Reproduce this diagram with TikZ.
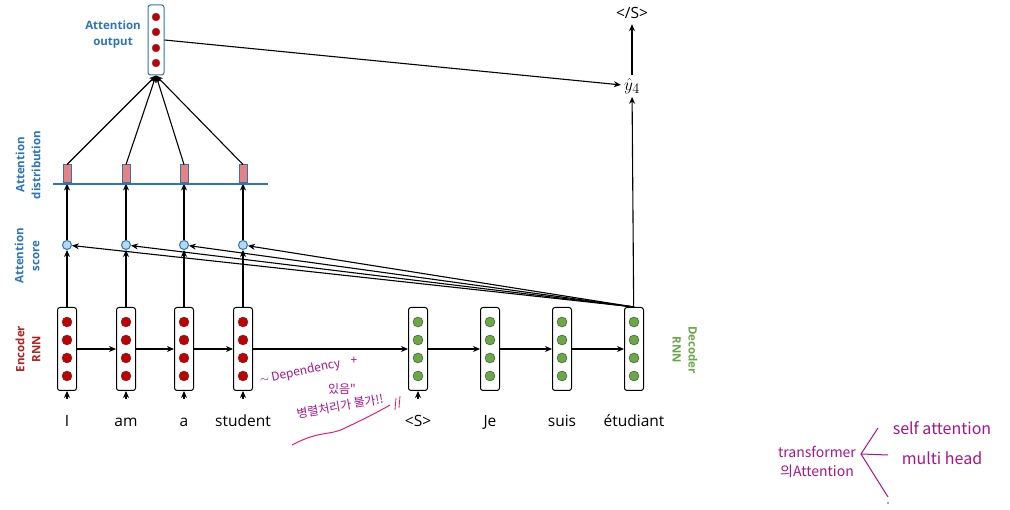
\documentclass[tikz,border=0pt]{standalone}
\usepackage{fontspec}
\setmainfont{Open Sans}
\newfontfamily\krfont{Noto Sans CJK KR}
\usepackage{xcolor}
\definecolor{attblue}{RGB}{46,117,182}
\definecolor{encred}{RGB}{192,0,0}
\definecolor{enclabel}{RGB}{175,35,35}
\definecolor{decgreen}{RGB}{106,168,70}
\definecolor{scorefill}{RGB}{178,218,244}
\definecolor{barfill}{RGB}{232,130,130}
\definecolor{notemag}{RGB}{168,20,140}
\definecolor{notepink}{RGB}{228,30,115}
\usetikzlibrary{arrows.meta, positioning, calc}

\begin{document}
\begin{tikzpicture}[x=1pt, y=-1pt,
    arr/.style={-{Stealth[length=7pt, width=6pt]}, line width=1.1pt, black},
    rnnbox/.style={draw=black, line width=1pt, fill=white, rounded corners=2.5pt,
                   minimum width=19pt, minimum height=83pt, inner sep=0pt},
    encdot/.style={circle, draw=black!75, fill=encred, minimum size=10pt, inner sep=0pt},
    decdot/.style={circle, draw=black!75, fill=decgreen, minimum size=10pt, inner sep=0pt},
    outdot/.style={circle, draw=black!60, fill=encred, minimum size=8pt, inner sep=0pt},
    scorecirc/.style={circle, draw=attblue, line width=1pt, fill=scorefill, minimum size=9pt, inner sep=0pt},
    attbar/.style={draw=attblue, line width=1pt, fill=barfill, minimum width=8pt, minimum height=18pt, inner sep=0pt},
    word/.style={font=\fontsize{15.5}{18}\selectfont, text height=11pt, text depth=3pt, inner sep=2pt},
    sidelabel/.style={font=\fontsize{11.5}{16}\selectfont\bfseries, align=center},
    note/.style={font=\krfont\fontsize{12}{14}\selectfont, notemag},
    bignote/.style={font=\krfont\fontsize{16}{18}\selectfont, notemag}]

\useasboundingbox (0,0) rectangle (1010,510);

% === Encoder RNN ===
\foreach \i/\x/\word in {1/67/I, 2/126/am, 3/184/a, 4/243/student} {
    \node[rnnbox] (enc\i) at (\x,349) {};
    \foreach \k/\y in {1/322, 2/340, 3/358, 4/376}
        \node[encdot] (enc\i d\k) at (\x,\y) {};
    \node[word] (in\i) at (\x,423) {\word};
    \draw[arr, shorten <=15pt] (in\i) -- (enc\i);
    % score and distribution
    \node[scorecirc] (sc\i) at (\x,245) {};
    \node[attbar] (bar\i) at (\x,174) {};
    \draw[arr] (enc\i) -- (sc\i);
    \draw[arr] (sc\i) -- (bar\i.south);
}

% === Decoder RNN ===
\foreach \i/\x/\word in {1/418/{<S>}, 2/490/Je, 3/562/suis, 4/634/étudiant} {
    \node[rnnbox] (dec\i) at (\x,349) {};
    \foreach \k/\y in {1/322, 2/340, 3/358, 4/376}
        \node[decdot] (dec\i d\k) at (\x,\y) {};
    \node[word] (out\i) at (\x,423) {\word};
}
\draw[arr, shorten <=15pt] (out1) -- (dec1);

% Recurrent arrows
\foreach \a/\b in {enc1/enc2, enc2/enc3, enc3/enc4, enc4/dec1, dec1/dec2, dec2/dec3, dec3/dec4}
    \draw[arr] (\a) -- (\b);

% Distribution axis
\draw[attblue, line width=1.5pt] (53,184) -- (268,184);

% Scores from decoder state
\foreach \i in {1,...,4}
    \draw[arr] (dec4.north) -- (sc\i);

% === Attention output ===
\node[draw=attblue, line width=1pt, fill=white, rounded corners=2.5pt,
      minimum width=16pt, minimum height=70pt, inner sep=0pt] (attout) at (156,40) {};
\foreach \k/\y in {1/17, 2/32, 3/48, 4/63}
    \node[outdot] (att d\k) at (156,\y) {};
\foreach \i in {1,...,4}
    \draw[arr] (bar\i.north) -- (attout.south);

% Prediction
\node[font=\fontsize{19}{22}\selectfont, inner sep=3pt] (yhat) at (632,86) {$\hat{y}_4$};
\node[word] (eos) at (632,15) {</S>};
\draw[arr] (attout.east) -- (yhat);
\draw[arr] (dec4) -- (yhat);
\draw[arr] (yhat) -- (eos);

% === Side labels ===
\node[sidelabel, attblue] (lbloutput) at (113,35) {Attention\\output};
\node[sidelabel, attblue, rotate=90] (lbldist) at (28,165) {Attention\\distribution};
\node[sidelabel, attblue, rotate=90] (lblscore) at (27,256) {Attention\\score};
\node[sidelabel, enclabel, rotate=90] (lblenc) at (28,349) {Encoder\\RNN};
\node[sidelabel, decgreen, rotate=-90] (lbldec) at (685,350) {Decoder\\RNN};

% === Handwritten notes ===
\node[note, rotate=12, inner sep=1pt] (nodep) at (300,372) {$\sim$ Dependency};
\node[note, inner sep=1pt] (noplus) at (354,361) {+};
\node[note, inner sep=1pt] (nohas) at (342,389) {있음"};
\node[note, rotate=10, inner sep=1pt] (nopar) at (340,406) {병렬처리가 불가!!};
\draw[notepink, line width=1pt] (292,445) .. controls (320,430) and (330,436) .. (345,428)
    .. controls (362,420) and (378,412) .. (390,405);
\draw[notepink, line width=0.8pt] (396,398) -- (395,410) (400,396) -- (399,408);

\node[bignote, font=\krfont\fontsize{14}{16}\selectfont] (notrans) at (817,452) {transformer};
\node[bignote, font=\krfont\fontsize{14}{16}\selectfont] (noatt) at (817,471) {의Attention};
\node[bignote] (noself) at (942,428) {self attention};
\node[bignote] (nomulti) at (942,458) {multi head};
\draw[notemag, line width=1pt] (878,428) -- (861,454) -- (888,497);
\draw[notemag, line width=1pt] (861,454) -- (888,455);
\fill[notemag] (888,503) circle (0.8);

\end{tikzpicture}
\end{document}
